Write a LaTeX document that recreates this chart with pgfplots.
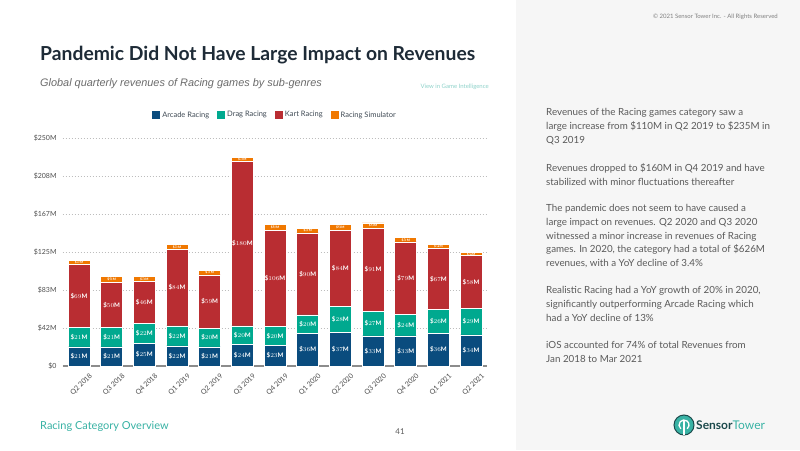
\documentclass[border=0pt]{standalone}
\usepackage{pgfplots}
\pgfplotsset{compat=1.18}
\usepackage{pgfplotstable}
\usepackage{fontspec}
\setmainfont{Lato}
\newfontfamily\arialfont{Liberation Sans}

\definecolor{arcade}{HTML}{0A4C7E}
\definecolor{drag}{HTML}{00A98F}
\definecolor{kart}{HTML}{B92D32}
\definecolor{sim}{HTML}{F07800}
\definecolor{panel}{HTML}{F6F6F6}
\definecolor{bodytxt}{HTML}{5A5A5A}
\definecolor{ticktxt}{HTML}{4D4D4D}
\definecolor{titletxt}{HTML}{1E2B37}
\definecolor{brandteal}{HTML}{38B2A4}
\definecolor{lightteal}{HTML}{8ED2CA}
\definecolor{darkteal}{HTML}{1C4A4C}
\definecolor{gridgray}{HTML}{BDBDBD}
\definecolor{axisgray}{HTML}{8C8C8C}

% quarterly revenue by sub-genre (US$ millions)
\pgfplotstableread{
q  a  d  k   s
0  21 21 69  5
1  21 21 50  6
2  25 22 46  5
3  22 22 84  5
4  21 20 59  5
5  24 20 180 5
6  23 20 106 6
7  36 20 90  5
8  37 28 84  6
9  33 27 91  6
10 33 24 79  5
11 36 26 67  4
12 34 29 58  4
}\revenue

\pgfplotsset{
  chartframe/.style={
    at={(62.7pt,84pt)}, anchor=south west,
    scale only axis, width=424.7pt, height=228pt,
    xmin=-0.5, xmax=12.5, ymin=0, ymax=250,
  },
  seglabel/.style={
    only marks, mark=*, mark size=0pt, mark options={draw=none,fill=none},
    nodes near coords={\$\pgfmathprintnumber{\pgfplotspointmeta}M},
    every node near coord/.append style={anchor=center, inner sep=0pt,
      text=white, font=\bfseries\fontsize{6.2}{6.2}\selectfont},
  },
}

\begin{document}
\begin{tikzpicture}
\path[use as bounding box] (0pt,0pt) rectangle (800pt,450pt);
\fill[white] (0pt,0pt) rectangle (516pt,450pt);
\fill[panel] (516pt,0pt) rectangle (800pt,450pt);

% headings
\node[anchor=base west, inner sep=0, text=titletxt, font=\bfseries\fontsize{19.3}{21}\selectfont]
  at (40pt,389pt) {Pandemic Did Not Have Large Impact on Revenues};
\node[anchor=base west, inner sep=0, text=bodytxt!90, font=\arialfont\itshape\fontsize{10.9}{12}\selectfont]
  at (40pt,363.5pt) {Global quarterly revenues of Racing games by sub-genres};
\node[anchor=base east, inner sep=0, text=lightteal, font=\fontsize{6}{7}\selectfont]
  at (489pt,361.5pt) {View in Game Intelligence};
\node[anchor=base east, inner sep=0, text=gray, font=\fontsize{6}{7}\selectfont]
  at (778pt,431pt) {\textcopyright{} 2021 Sensor Tower Inc. - All Rights Reserved};

% stacked bars
\begin{axis}[chartframe,
  ybar stacked, bar width=22pt,
  axis lines*=left,
  y axis line style={draw=none},
  x axis line style={draw=axisgray, line width=1.6pt},
  tick style={draw=none},
  ytick={0,41.6667,83.3333,125,166.6667,208.3333,250},
  yticklabels={\$0,\$42M,\$83M,\$125M,\$167M,\$208M,\$250M},
  ymajorgrids,
  grid style={gridgray, line width=0.8pt, dash pattern=on 0.8pt off 2.2pt},
  xtick={0,...,12},
  xticklabels={Q2 2018,Q3 2018,Q4 2018,Q1 2019,Q2 2019,Q3 2019,Q4 2019,Q1 2020,Q2 2020,Q3 2020,Q4 2020,Q1 2021,Q2 2021},
  ticklabel style={text=ticktxt, font=\fontsize{7}{8}\selectfont},
  xticklabel style={xshift=10pt, yshift=-5pt, rotate=45, anchor=north east, inner sep=1pt},
  yticklabel style={inner sep=1pt, xshift=-5pt},
  legend style={at={(0.5,1)}, anchor=center, yshift=23pt, draw=none, fill=none,
    font=\fontsize{7.5}{8}\selectfont, text=titletxt!85,
    /tikz/every even column/.append style={column sep=6pt}},
  legend columns=4,
  legend image code/.code={\path[#1, draw=none] (0pt,-4pt) rectangle (8pt,4pt);},
  clip=false,
]
\addplot[fill=arcade, draw=white, line width=0.6pt] table[x=q,y=a]{\revenue};
\addplot[fill=drag,   draw=white, line width=0.6pt] table[x=q,y=d]{\revenue};
\addplot[fill=kart,   draw=white, line width=0.6pt] table[x=q,y=k]{\revenue};
\addplot[fill=sim,    draw=white, line width=0.6pt] table[x=q,y=s]{\revenue};
\legend{Arcade Racing,Drag Racing,Kart Racing,Racing Simulator}
\end{axis}

% segment value labels
\begin{axis}[chartframe, hide axis, clip=false]
\addplot[seglabel, point meta=\thisrow{a}] table[x=q, y expr=\thisrow{a}/2]{\revenue};
\addplot[seglabel, point meta=\thisrow{d}] table[x=q, y expr=\thisrow{a}+\thisrow{d}/2]{\revenue};
\addplot[seglabel, point meta=\thisrow{k}] table[x=q, y expr=\thisrow{a}+\thisrow{d}+\thisrow{k}/2]{\revenue};
\addplot[seglabel, point meta=\thisrow{s},
  every node near coord/.append style={font=\bfseries\fontsize{3.3}{3.5}\selectfont}]
  table[x=q, y expr=\thisrow{a}+\thisrow{d}+\thisrow{k}+\thisrow{s}/2]{\revenue};
\end{axis}

% commentary
\begin{scope}[every node/.style={anchor=north west, inner sep=0, align=left, text=bodytxt,
    font=\fontsize{9.8}{13.8}\selectfont}]
\node at (546pt,342pt) {Revenues of the Racing games category saw a\\large increase from \$110M in Q2 2019 to \$235M in\\Q3 2019};
\node at (546pt,287pt) {Revenues dropped to \$160M in Q4 2019 and have\\stabilized with minor fluctuations thereafter};
\node at (546pt,246pt) {The pandemic does not seem to have caused a\\large impact on revenues. Q2 2020 and Q3 2020\\witnessed a minor increase in revenues of Racing\\games. In 2020, the category had a total of \$626M\\revenues, with a YoY decline of 3.4\%};
\node at (546pt,163.5pt) {Realistic Racing had a YoY growth of 20\% in 2020,\\significantly outperforming Arcade Racing which\\had a YoY decline of 13\%};
\node at (546pt,108.5pt) {iOS accounted for 74\% of total Revenues from\\Jan 2018 to Mar 2021};
\end{scope}

% footer
\node[anchor=base west, inner sep=0, text=brandteal, font=\fontsize{11}{12}\selectfont]
  at (40pt,21pt) {Racing Category Overview};
\node[anchor=base, inner sep=0, text=bodytxt, font=\fontsize{8}{9}\selectfont]
  at (400pt,16pt) {41};

% brand mark
\fill[brandteal, draw=darkteal, line width=1pt] (684pt,25pt) circle (10pt);
\draw[white, line width=1.3pt] (680.8pt,21.2pt) arc[start angle=230, end angle=-50, radius=5pt];
\draw[white, line width=1.3pt] (684pt,30pt) -- (684pt,15.5pt);
\node[anchor=base west, inner sep=0, font=\bfseries\fontsize{12}{13}\selectfont]
  at (696pt,20.5pt) {\textcolor{darkteal}{Sensor}\textcolor{brandteal}{\mdseries Tower}};
\end{tikzpicture}
\end{document}
